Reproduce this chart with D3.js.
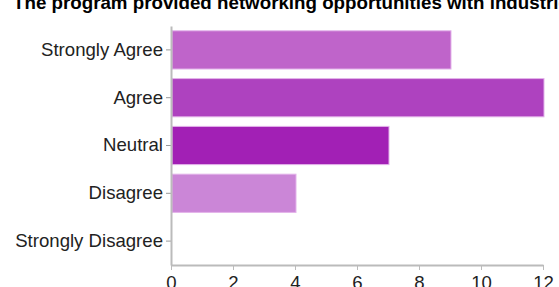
<!DOCTYPE html>
<html>
<head>
<meta charset="utf-8">
<script src="https://cdn.jsdelivr.net/npm/d3@7"></script>
<style>
  body { margin: 0; background: #fff; overflow: hidden; }
  svg { display: block; font-family: "Liberation Sans", Arial, sans-serif; }
</style>
</head>
<body>
<script>
// survey answers
const categories = ["Strongly Agree", "Agree", "Neutral", "Disagree", "Strongly Disagree"];
const counts = [9, 12, 7, 4, 0];
const barColors = ["#bf64ca", "#ae42bf", "#a220b5", "#cb86d7", "#d9a6e0"];
const xTicks = [0, 2, 4, 6, 8, 10, 12];
const title = "The program provided networking opportunities with industries";

const width = 559, height = 287;
const svg = d3.select("body").append("svg").attr("width", width).attr("height", height);

const x = d3.scaleLinear().domain([0, 12]).range([171, 543]);
const y = d3.scaleBand().domain(categories).range([26, 265]).paddingInner(0.2).paddingOuter(0.1);

const titleText = svg.append("text")
  .attr("x", 13).attr("y", 9)
  .attr("font-size", 18.5).attr("font-weight", "bold")
  .attr("fill", "#000")
  .text(title);
// stretch a bit so "industr" lands where the original has it
const cut = title.indexOf("industries");
const w = titleText.node().getSubStringLength(0, cut);
titleText.attr("font-size", 18.5 * 477 / w);

svg.selectAll("rect.bar")
  .data(categories)
  .enter().append("rect")
  .attr("class", "bar")
  .attr("x", x(0) + 1)
  .attr("y", d => y(d))
  .attr("width", (d, i) => Math.max(0, x(counts[i]) - x(0)))
  .attr("height", y.bandwidth())
  .attr("fill", (d, i) => barColors[i])
  .attr("stroke", "#e3b3ea")
  .attr("stroke-width", 1)
  .attr("display", (d, i) => counts[i] > 0 ? null : "none");

const yAxis = svg.append("g")
  .attr("transform", `translate(${x(0)},0)`)
  .call(d3.axisLeft(y).tickSize(5).tickSizeOuter(0));
yAxis.select(".domain").attr("stroke", "#bbb").attr("stroke-width", 2);
yAxis.selectAll(".tick line").attr("stroke", "#999");
yAxis.selectAll(".tick text").attr("font-size", 18.6).attr("fill", "#222").attr("x", -8);

const xAxis = svg.append("g")
  .attr("transform", `translate(0,265)`)
  .call(d3.axisBottom(x).tickValues(xTicks).tickSize(5).tickSizeOuter(0));
xAxis.select(".domain").attr("stroke", "#bbb").attr("stroke-width", 2);
xAxis.selectAll(".tick line").attr("stroke", "#bbb");
xAxis.selectAll(".tick text").attr("font-size", 18.6).attr("fill", "#222").attr("y", 11);
svg.selectAll(".domain").raise();
</script>
</body>
</html>
